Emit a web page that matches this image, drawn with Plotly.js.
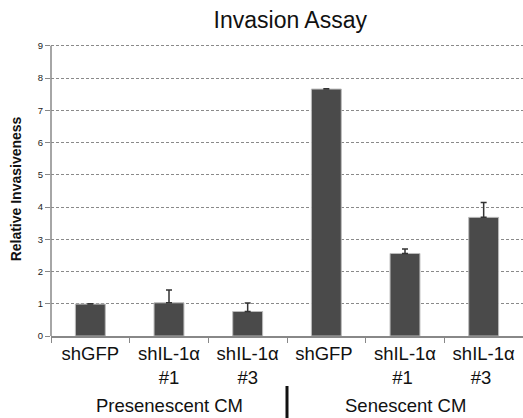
<!DOCTYPE html>
<html><head><meta charset="utf-8">
<script src="https://cdn.plot.ly/plotly-3.0.1.min.js"></script>
<style>html,body{margin:0;padding:0;background:#fff}#chart{width:523px;height:418px}</style>
</head><body><div id="chart"></div>
<script>
const categories = ["shGFP", "shIL-1α<br>#1", "shIL-1α<br>#3", "shGFP ", "shIL-1α<br>#1 ", "shIL-1α<br>#3 "];
const values = [0.99, 1.03, 0.76, 7.66, 2.56, 3.68];
const errors = [0.01, 0.40, 0.26, 0.01, 0.14, 0.46];
const groupLabels = ["Presenescent CM", "Senescent CM"];
const yTicks = [0,1,2,3,4,5,6,7,8,9];

const trace = {
  type: "bar", x: categories, y: values,
  marker: {color: "#4a4a4a", line: {color: "#bbbbbb", width: 1}},
  error_y: {type: "data", array: errors, symmetric: false, arrayminus: errors.map(()=>0), color: "#333", thickness: 1.5, width: 3},
  width: 0.38, hoverinfo: "none"
};
const layout = {
  width: 523, height: 418,
  margin: {l: 51, r: 0, t: 42, b: 82},
  paper_bgcolor: "#fff", plot_bgcolor: "#fff",
  font: {family: "Liberation Sans, Arial, sans-serif", color: "#111"},
  title: {text: "Invasion Assay", font: {size: 23, color: "#111"}, x: 0.555, xanchor: "center", y: 0.952, yanchor: "middle"},
  showlegend: false,
  xaxis: {
    type: "category", showgrid: false, showline: true, linecolor: "#888", linewidth: 1.5,
    ticks: "outside", tickson: "boundaries", ticklen: 5, tickcolor: "#888",
    tickfont: {size: 18.5, color: "#111"}, range: [-0.5, 5.5]
  },
  yaxis: {
    range: [0, 9.12], tickvals: yTicks, ticktext: yTicks.map(String),
    showgrid: true, gridcolor: "#8a8a8a", griddash: "3px,2px", gridwidth: 1,
    showline: false, zeroline: false,
    ticks: "outside", ticklen: 5, tickcolor: "#888",
    tickfont: {size: 9.5, color: "#222"},
    title: {text: "<b>Relative Invasiveness</b>", font: {size: 14, color: "#111"}, standoff: 12}
  },
  annotations: [
    {text: groupLabels[0], xref: "x", x: 1, yref: "paper", y: -0.237, yanchor: "middle", showarrow: false, font: {size: 18.5, color: "#111"}},
    {text: groupLabels[1], xref: "x", x: 4, yref: "paper", y: -0.237, yanchor: "middle", showarrow: false, font: {size: 18.5, color: "#111"}}
  ],
  shapes: [
    {type: "line", xref: "x", x0: 2.5, x1: 2.5, yref: "paper", y0: -0.17, y1: -0.29, line: {color: "#111", width: 3}},
    {type: "line", xref: "paper", x0: 0, x1: 0, yref: "y", y0: 0, y1: yTicks[yTicks.length-1], line: {color: "#888", width: 1.5}}
  ]
};
Plotly.newPlot("chart", [trace], layout, {displayModeBar: false, staticPlot: true});
</script></body></html>
